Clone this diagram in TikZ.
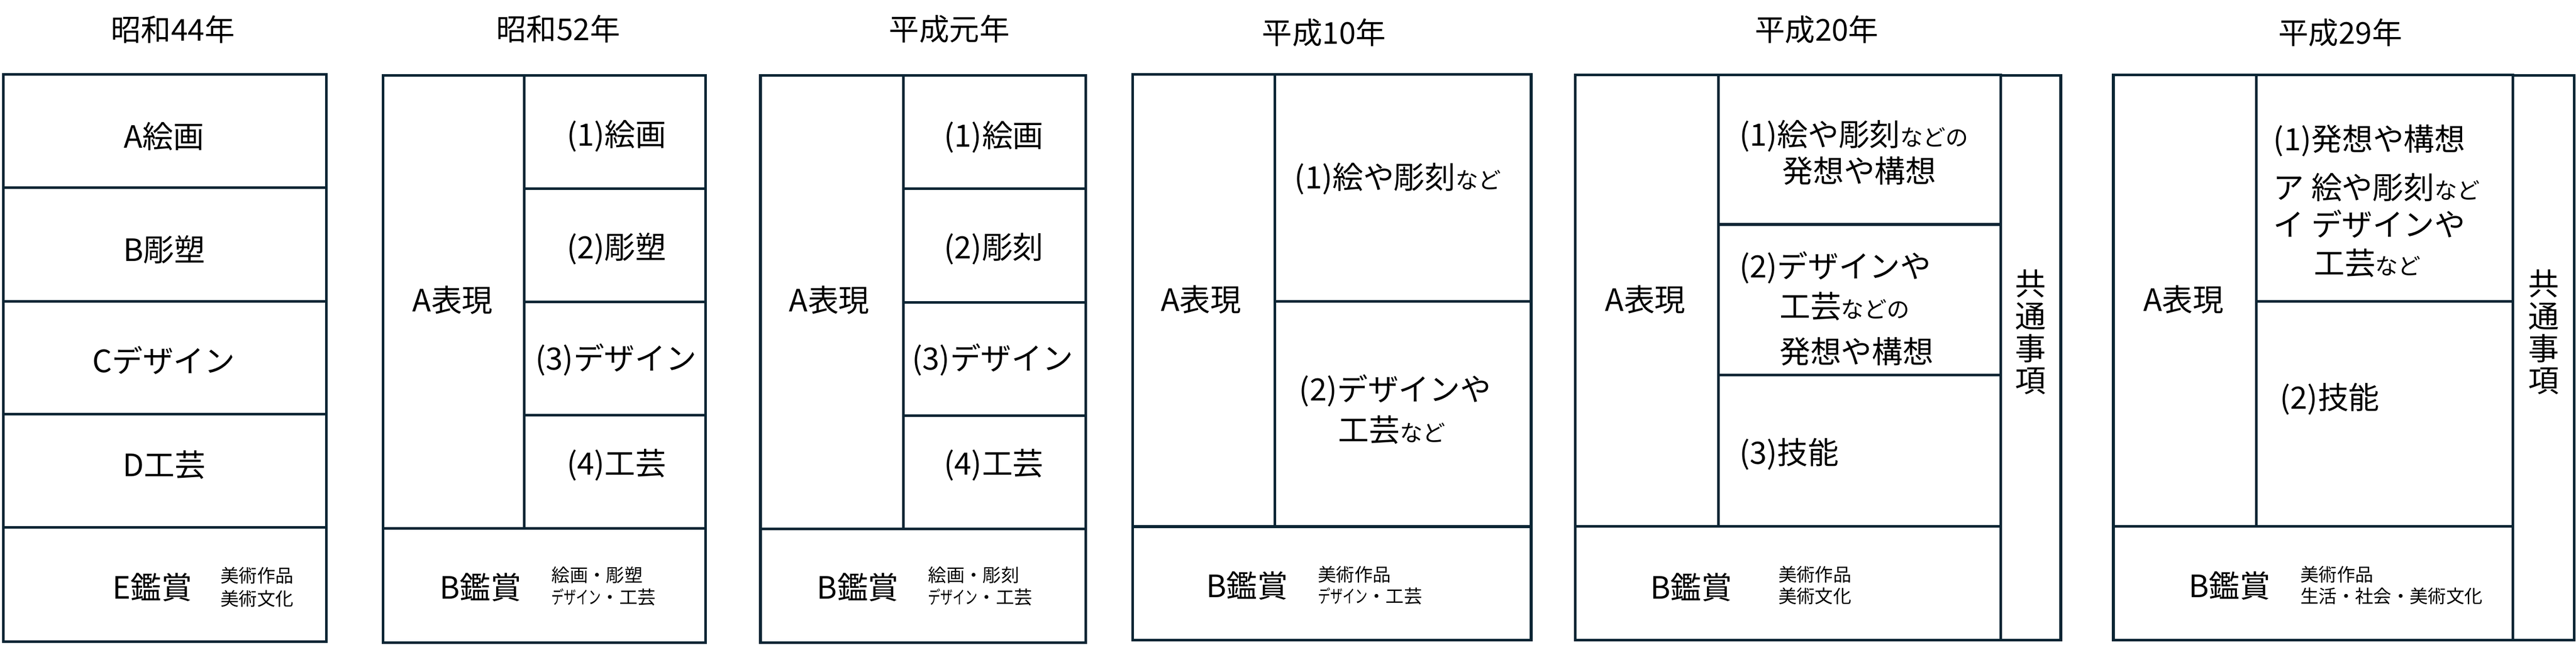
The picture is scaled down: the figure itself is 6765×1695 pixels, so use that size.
\documentclass[tikz,border=0pt]{standalone}
\usepackage{fontspec}
\usepackage{graphicx}
\setmainfont{Noto Sans CJK JP}
\definecolor{frameblue}{RGB}{11,37,52}
\newcommand{\nado}[1]{{\fontsize{17}{20}\selectfont #1}}
\newcommand{\narrowkana}[1]{\scalebox{0.68}[1]{#1}}
\begin{document}
\begin{tikzpicture}[x=0.1mm,y=0.1mm]
\tikzstyle{every node}+=[inner sep=0pt]
\tikzstyle{frame}=[draw=frameblue,line width=0.7mm]
\tikzstyle{ttl}=[font=\fontsize{22.5}{27}\selectfont]
\tikzstyle{lbl}=[font=\fontsize{23}{28}\selectfont]
\tikzstyle{lblw}=[lbl,anchor=west]
\tikzstyle{sml}=[font=\fontsize{13.6}{16.8}\selectfont,anchor=west]
\tikzstyle{vert}=[font=\fontsize{23}{24.2}\selectfont,align=center]
\useasboundingbox (0,0) rectangle (6765,-1695);
\draw (454,-78) node [ttl] (t1) {昭和44年};
\draw [frame] (8.5,-196) rectangle (857,-1687);
\draw [frame] (8.5,-493) -- (857,-493);
\draw [frame] (8.5,-792) -- (857,-792);
\draw [frame] (8.5,-1089) -- (857,-1089);
\draw [frame] (8.5,-1386) -- (857,-1386);
\draw (431,-358) node [lbl] (s44a) {A絵画};
\draw (431,-656) node [lbl] (s44b) {B彫塑};
\draw (430,-947) node [lbl] (s44c) {Cデザイン};
\draw (431,-1222) node [lbl] (s44d) {D工芸};
\draw (400,-1544) node [lbl] (s44e) {E鑑賞};
\draw (579,-1513) node [sml] (s44e1) {美術作品};
\draw (579,-1573) node [sml] (s44e2) {美術文化};
\draw (1466,-76) node [ttl] (t2) {昭和52年};
\draw [frame] (1006,-198) rectangle (1853,-1689);
\draw [frame] (1377,-198) -- (1377,-1389);
\draw [frame] (1377,-496) -- (1853,-496);
\draw [frame] (1377,-794) -- (1853,-794);
\draw [frame] (1377,-1091) -- (1853,-1091);
\draw [frame] (1006,-1389) -- (1853,-1389);
\draw (1189,-789) node [lbl] (s52a) {A表現};
\draw (1619,-357) node [lbl] (s52a1) {(1)絵画};
\draw (1619,-654) node [lbl] (s52a2) {(2)彫塑};
\draw (1618,-946) node [lbl] (s52a3) {(3)デザイン};
\draw (1619,-1222) node [lbl] (s52a4) {(4)工芸};
\draw (1262,-1544) node [lbl] (s52b) {B鑑賞};
\draw (1448,-1511) node [sml] (s52b1) {絵画・彫塑};
\draw (1448,-1570) node [sml] (s52b2) {\narrowkana{デザイン}・工芸};
\draw (2493,-76) node [ttl] (t3) {平成元年};
\draw [frame] (1997,-198) rectangle (2851,-1689);
\draw [frame] (2373,-198) -- (2373,-1390);
\draw [frame] (2373,-496) -- (2851,-496);
\draw [frame] (2373,-795) -- (2851,-795);
\draw [frame] (2373,-1092) -- (2851,-1092);
\draw [frame] (1997,-1390) -- (2851,-1390);
\draw (2178,-789) node [lbl] (h1a) {A表現};
\draw (2610,-360) node [lbl] (h1a1) {(1)絵画};
\draw (2610,-654) node [lbl] (h1a2) {(2)彫刻};
\draw (2607,-946) node [lbl] (h1a3) {(3)デザイン};
\draw (2610,-1222) node [lbl] (h1a4) {(4)工芸};
\draw (2253,-1544) node [lbl] (h1b) {B鑑賞};
\draw (2437,-1511) node [sml] (h1b1) {絵画・彫刻};
\draw (2437,-1570) node [sml] (h1b2) {\narrowkana{デザイン}・工芸};
\draw (3477,-86) node [ttl] (t4) {平成10年};
\draw [frame] (2975,-196) rectangle (4021,-1682);
\draw [frame] (3348,-196) -- (3348,-1384);
\draw [frame] (3348,-792) -- (4021,-792);
\draw [frame] (2975,-1384) -- (4021,-1384);
\draw (3154,-787) node [lbl] (h10a) {A表現};
\draw (3671,-470) node [lbl] (h10a1) {(1)絵や彫刻\nado{など}};
\draw (3664,-1027) node [lbl] (h10a2) {(2)デザインや};
\draw (3655,-1130) node [lbl] (h10a3) {工芸\nado{など}};
\draw (3275,-1540) node [lbl] (h10b) {B鑑賞};
\draw (3461,-1510) node [sml] (h10b1) {美術作品};
\draw (3461,-1567) node [sml] (h10b2) {\narrowkana{デザイン}・工芸};
\draw (4771,-78) node [ttl] (t5) {平成20年};
\draw [frame] (4137,-197) rectangle (5254,-1682);
\draw [frame] (5254,-198) rectangle (5412,-1682);
\draw [frame] (4513,-197) -- (4513,-1383);
\draw [frame] (4513,-590) -- (5254,-590);
\draw [frame] (4513,-986) -- (5254,-986);
\draw [frame] (4137,-1383) -- (5254,-1383);
\draw (4321,-787) node [lbl] (h20a) {A表現};
\draw (4567,-357) node [lblw] (h20a1) {(1)絵や彫刻\nado{などの}};
\draw (4680,-449) node [lblw] (h20a1b) {発想や構想};
\draw (4567,-703) node [lblw] (h20a2) {(2)デザインや};
\draw (4673,-805) node [lblw] (h20a2b) {工芸\nado{などの}};
\draw (4673,-924) node [lblw] (h20a2c) {発想や構想};
\draw (4567,-1194) node [lblw] (h20a3) {(3)技能};
\draw (4442,-1544) node [lbl] (h20b) {B鑑賞};
\draw (4670,-1510) node [sml] (h20b1) {美術作品};
\draw (4670,-1567) node [sml] (h20b2) {美術文化};
\draw (5333,-873) node [vert] (h20c) {共\\通\\事\\項};
\draw (6146,-86) node [ttl] (t6) {平成29年};
\draw [frame] (5550,-197) rectangle (6599,-1682);
\draw [frame] (6599,-198) rectangle (6760,-1682);
\draw [frame] (5925,-197) -- (5925,-1383);
\draw [frame] (5925,-792) -- (6599,-792);
\draw [frame] (5550,-1383) -- (6599,-1383);
\draw (5734,-787) node [lbl] (h29a) {A表現};
\draw (5970,-370) node [lblw] (h29a1) {(1)発想や構想};
\draw (5970,-492) node [lblw] (h29a1a) {ア 絵や彫刻\nado{など}};
\draw (5970,-589) node [lblw] (h29a1b) {イ デザインや};
\draw (6076,-691) node [lblw] (h29a1c) {工芸\nado{など}};
\draw (5987,-1049) node [lblw] (h29a2) {(2)技能};
\draw (5855,-1540) node [lbl] (h29b) {B鑑賞};
\draw (6041,-1510) node [sml] (h29b1) {美術作品};
\draw (6041,-1567) node [sml] (h29b2) {生活・社会・美術文化};
\draw (6680,-873) node [vert] (h29c) {共\\通\\事\\項};
\end{tikzpicture}
\end{document}
